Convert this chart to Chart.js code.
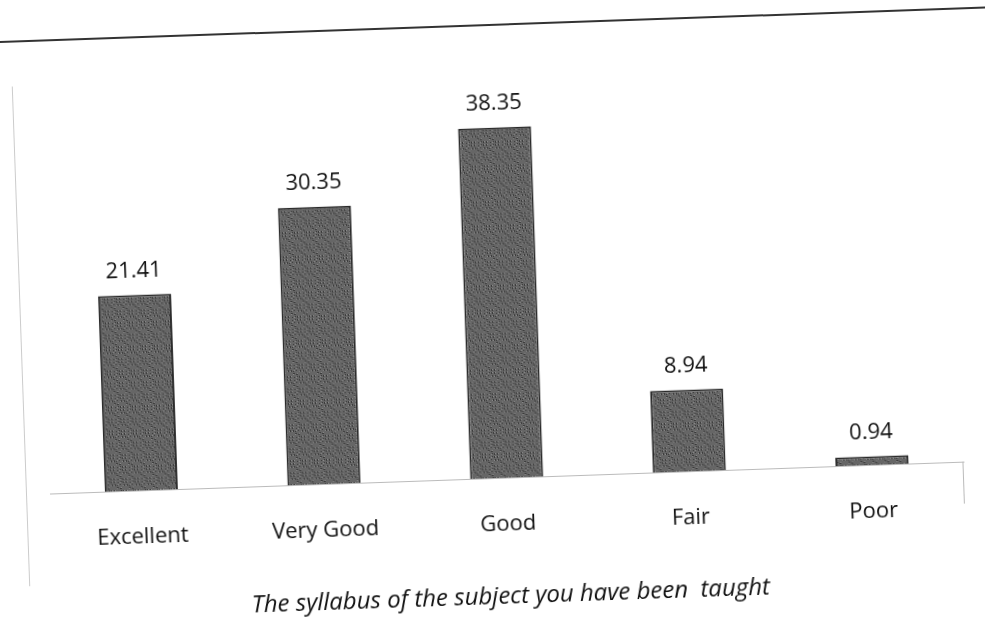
<!DOCTYPE html>
<html>
<head>
<meta charset="utf-8">
<script src="https://cdn.jsdelivr.net/npm/chart.js@4/dist/chart.umd.min.js"></script>
<style>
  html, body { margin: 0; padding: 0; background: #fff; overflow: hidden; }
  #page { position: relative; width: 985px; height: 628px; transform: rotate(-2deg); transform-origin: 492px 314px; }
  #topline { position: absolute; left: -10px; top: 24px; width: 1010px; height: 0; border-top: 2px solid #333; }
  #leftline { position: absolute; left: 20px; top: 70px; width: 0; height: 500px; border-left: 1px solid #ccc; }
  #rightline { position: absolute; left: 957px; top: 478px; width: 0; height: 42px; border-left: 1px solid #bbb; }
  canvas { position: absolute; left: 0; top: 0; }
</style>
</head>
<body>
<div id="page">
  <div id="topline"></div>
  <div id="leftline"></div>
  <div id="rightline"></div>
  <canvas id="barChart" width="985" height="628"></canvas>
</div>
<script>
var categories = ['Excellent', 'Very Good', 'Good', 'Fair', 'Poor'];
var percents = [21.41, 30.35, 38.35, 8.94, 0.94];
var chartTitle = 'The syllabus of the subject you have been  taught';

// grainy grey fill like the printed bars
function makeGrain() {
    var c = document.createElement('canvas');
    c.width = 12; c.height = 12;
    var g = c.getContext('2d');
    g.fillStyle = '#666666';
    g.fillRect(0, 0, 12, 12);
    for (var i = 0; i < 12; i++) {
        for (var j = 0; j < 12; j++) {
            var k = (i * 7 + j * 13 + i * j) % 9;
            if (k == 0 || k == 4) { g.fillStyle = '#3a3a3a'; g.fillRect(i, j, 1, 1); }
            else if (k == 7) { g.fillStyle = '#8a8a8a'; g.fillRect(i, j, 1, 1); }
        }
    }
    return g.createPattern(c, 'repeat');
}

var valueLabels = {
    id: 'valueLabels',
    afterDatasetsDraw: function(chart) {
        var ctx = chart.ctx;
        var meta = chart.getDatasetMeta(0);
        ctx.save();
        ctx.font = '22px "Open Sans"';
        ctx.fillStyle = '#111';
        ctx.textAlign = 'center';
        ctx.textBaseline = 'bottom';
        meta.data.forEach(function(bar, i) {
            ctx.fillText(percents[i].toFixed(2), bar.x, bar.y - 13);
        });
        ctx.restore();
    }
};

var ctx = document.getElementById('barChart').getContext('2d');
var myChart = new Chart(ctx, {
    type: 'bar',
    data: {
        labels: categories,
        datasets: [{
            data: percents,
            backgroundColor: makeGrain(),
            borderColor: '#2a2a2a',
            borderWidth: 2,
            barPercentage: 0.4,
            categoryPercentage: 1
        }]
    },
    options: {
        responsive: false,
        animation: false,
        layout: { padding: { top: 67, left: 44, right: 27, bottom: 16 } },
        plugins: {
            legend: { display: false },
            tooltip: { enabled: false },
            title: {
                display: true,
                position: 'bottom',
                text: chartTitle,
                color: '#111',
                font: { family: 'Open Sans', size: 24, style: 'italic', weight: 'normal' },
                padding: { top: 0, bottom: 0 }
            }
        },
        scales: {
            x: {
                grid: { display: false },
                border: { display: true, color: '#bbb', width: 1 },
                ticks: { color: '#111', padding: 25, font: { family: 'Open Sans', size: 22 } },
                afterFit: function(scale) { scale.height = 105; }
            },
            y: {
                display: false,
                min: 0,
                max: 45
            }
        }
    },
    plugins: [valueLabels]
});
</script>
</body>
</html>
